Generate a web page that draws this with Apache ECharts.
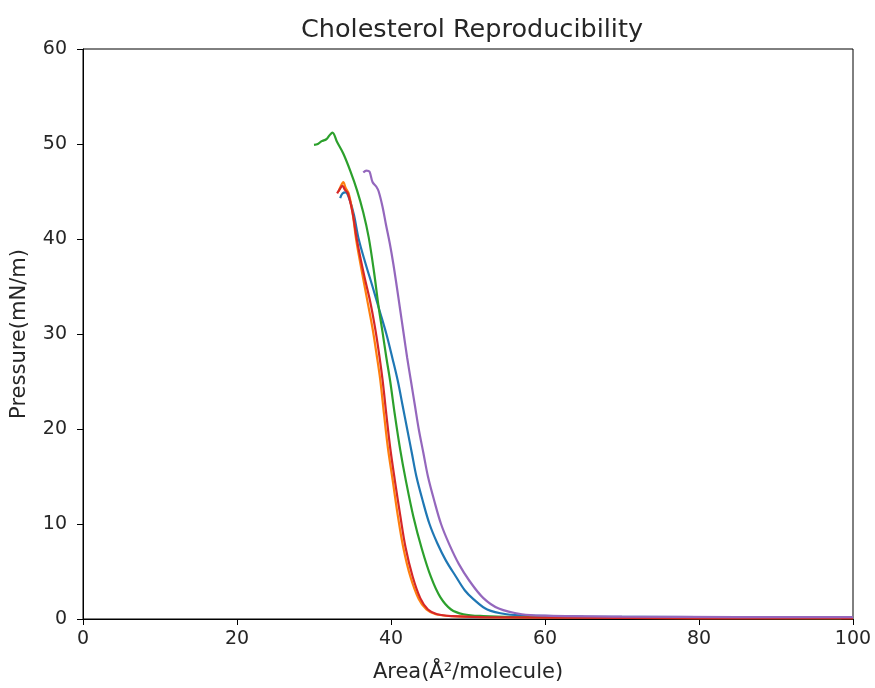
<!DOCTYPE html>
<html>
<head>
<meta charset="utf-8">
<script src="https://cdn.jsdelivr.net/npm/echarts@6/dist/echarts.min.js"></script>
<style>html,body{margin:0;padding:0;background:#fff}#c{width:875px;height:688px}</style>
</head>
<body>
<div id="c"></div>
<script>
const xTicks = [0, 20, 40, 60, 80, 100];
const yTicks = [0, 10, 20, 30, 40, 50, 60];

const blue = [[33.4,44.3],[33.7,44.8],[34.1,44.9],[34.6,44.2],[35.2,42.5],[35.8,40.0],[36.7,37.4],[37.6,35.0],[38.5,32.5],[39.4,30.0],[40.2,27.4],[40.9,25.0],[41.5,22.5],[42.1,20.0],[42.7,17.5],[43.3,15.0],[44.1,12.5],[45.0,10.0],[46.0,8.0],[47.1,6.2],[48.4,4.5],[49.6,3.0],[50.7,2.1],[52.5,1.0],[55,0.5],[58,0.35],[65,0.25],[80,0.2],[100,0.15]];
const orange = [[33.2,45.0],[33.5,45.6],[33.8,46.0],[34.1,45.4],[34.5,44.8],[35.0,42.8],[35.5,39.8],[36.3,36.2],[37.0,33.2],[37.6,30.6],[38.1,28.0],[38.6,25.2],[39.1,21.5],[39.6,18.0],[40.2,14.7],[40.9,10.8],[41.6,7.5],[42.5,4.5],[43.6,2.1],[44.6,1.0],[45.8,0.5],[48,0.3],[52,0.2],[60,0.15],[80,0.1],[100,0.1]];
const green = [[30.0,49.9],[30.5,50.0],[31.0,50.3],[31.6,50.5],[32.0,50.9],[32.4,51.2],[33.0,50.2],[33.8,49.0],[34.7,47.2],[35.6,45.1],[36.4,42.8],[37.1,40.2],[37.8,36.5],[38.4,32.8],[38.9,30.2],[39.4,27.5],[39.9,25.0],[40.5,21.5],[41.2,17.8],[41.9,14.7],[42.9,10.8],[44.0,7.4],[45.2,4.4],[46.4,2.3],[47.8,1.0],[49.4,0.5],[52,0.3],[56,0.2],[65,0.15],[80,0.12],[98.5,0.1]];
const red = [[33.0,44.8],[33.3,45.2],[33.7,45.6],[34.0,45.2],[34.4,44.8],[35.0,42.8],[35.6,39.8],[36.5,36.2],[37.3,33.4],[37.9,30.8],[38.4,28.2],[38.9,25.2],[39.4,21.5],[39.9,18.0],[40.5,14.6],[41.2,10.9],[41.9,7.5],[42.8,4.5],[43.8,2.2],[44.8,1.0],[46.0,0.5],[48,0.3],[52,0.2],[60,0.15],[80,0.1],[100,0.1]];
const purple = [[36.4,47.0],[36.8,47.2],[37.2,47.1],[37.6,46.0],[38.1,45.5],[38.4,45.0],[38.9,43.4],[39.35,41.5],[39.85,39.5],[40.3,37.4],[40.75,35.0],[41.2,32.5],[41.65,30.0],[42.1,27.5],[42.6,25.0],[43.1,22.5],[43.6,20.0],[44.2,17.5],[44.8,15.0],[45.6,12.5],[46.5,10.0],[47.6,7.8],[48.8,5.8],[50.2,4.0],[52.0,2.2],[54,1.1],[57,0.5],[60,0.35],[70,0.25],[85,0.2],[100,0.2]];

const seriesList = [
  {name: 'blue', data: blue, color: '#1f77b4'},
  {name: 'orange', data: orange, color: '#ff7f0e'},
  {name: 'green', data: green, color: '#2ca02c'},
  {name: 'red', data: red, color: '#d62728'},
  {name: 'purple', data: purple, color: '#9467bd'}
];

const FONT = 'DejaVu Sans';
const chart = echarts.init(document.getElementById('c'), null, {renderer: 'canvas'});
chart.setOption({
  animation: false,
  backgroundColor: '#fff',
  title: {
    text: 'Cholesterol Reproducibility',
    left: 467, top: 12, textAlign: 'center',
    textStyle: {fontFamily: FONT, fontSize: 25.5, fontWeight: 'normal', color: '#262626'}
  },
  grid: {left: 83, right: 22, top: 49, bottom: 67, show: true, borderColor: '#000', borderWidth: 1, backgroundColor: 'transparent'},
  xAxis: {
    type: 'value', min: xTicks[0], max: xTicks[xTicks.length - 1], interval: 20,
    name: 'Area(Å²/molecule)', nameLocation: 'middle', nameGap: 43,
    nameTextStyle: {fontFamily: FONT, fontSize: 21, color: '#262626'},
    axisLine: {show: true, onZero: false, lineStyle: {color: '#000', width: 1}},
    axisTick: {show: true, length: 6, lineStyle: {color: '#000'}},
    axisLabel: {fontFamily: FONT, fontSize: 19, color: '#262626', margin: 11},
    splitLine: {show: false}
  },
  yAxis: {
    type: 'value', min: yTicks[0], max: yTicks[yTicks.length - 1], interval: 10,
    name: 'Pressure(mN/m)', nameLocation: 'middle', nameGap: 53, nameRotate: 90,
    nameTextStyle: {fontFamily: FONT, fontSize: 21, color: '#262626'},
    axisLine: {show: true, onZero: false, lineStyle: {color: '#000', width: 1}},
    axisTick: {show: true, length: 6, lineStyle: {color: '#000'}},
    axisLabel: {fontFamily: FONT, fontSize: 19, color: '#262626', margin: 16},
    splitLine: {show: false}
  },
  series: seriesList.map(s => ({
    type: 'line', name: s.name, data: s.data, showSymbol: false, symbol: 'none',
    smooth: 0.35,
    lineStyle: {color: s.color, width: 2.2}, itemStyle: {color: s.color}
  }))
});
</script>
</body>
</html>
